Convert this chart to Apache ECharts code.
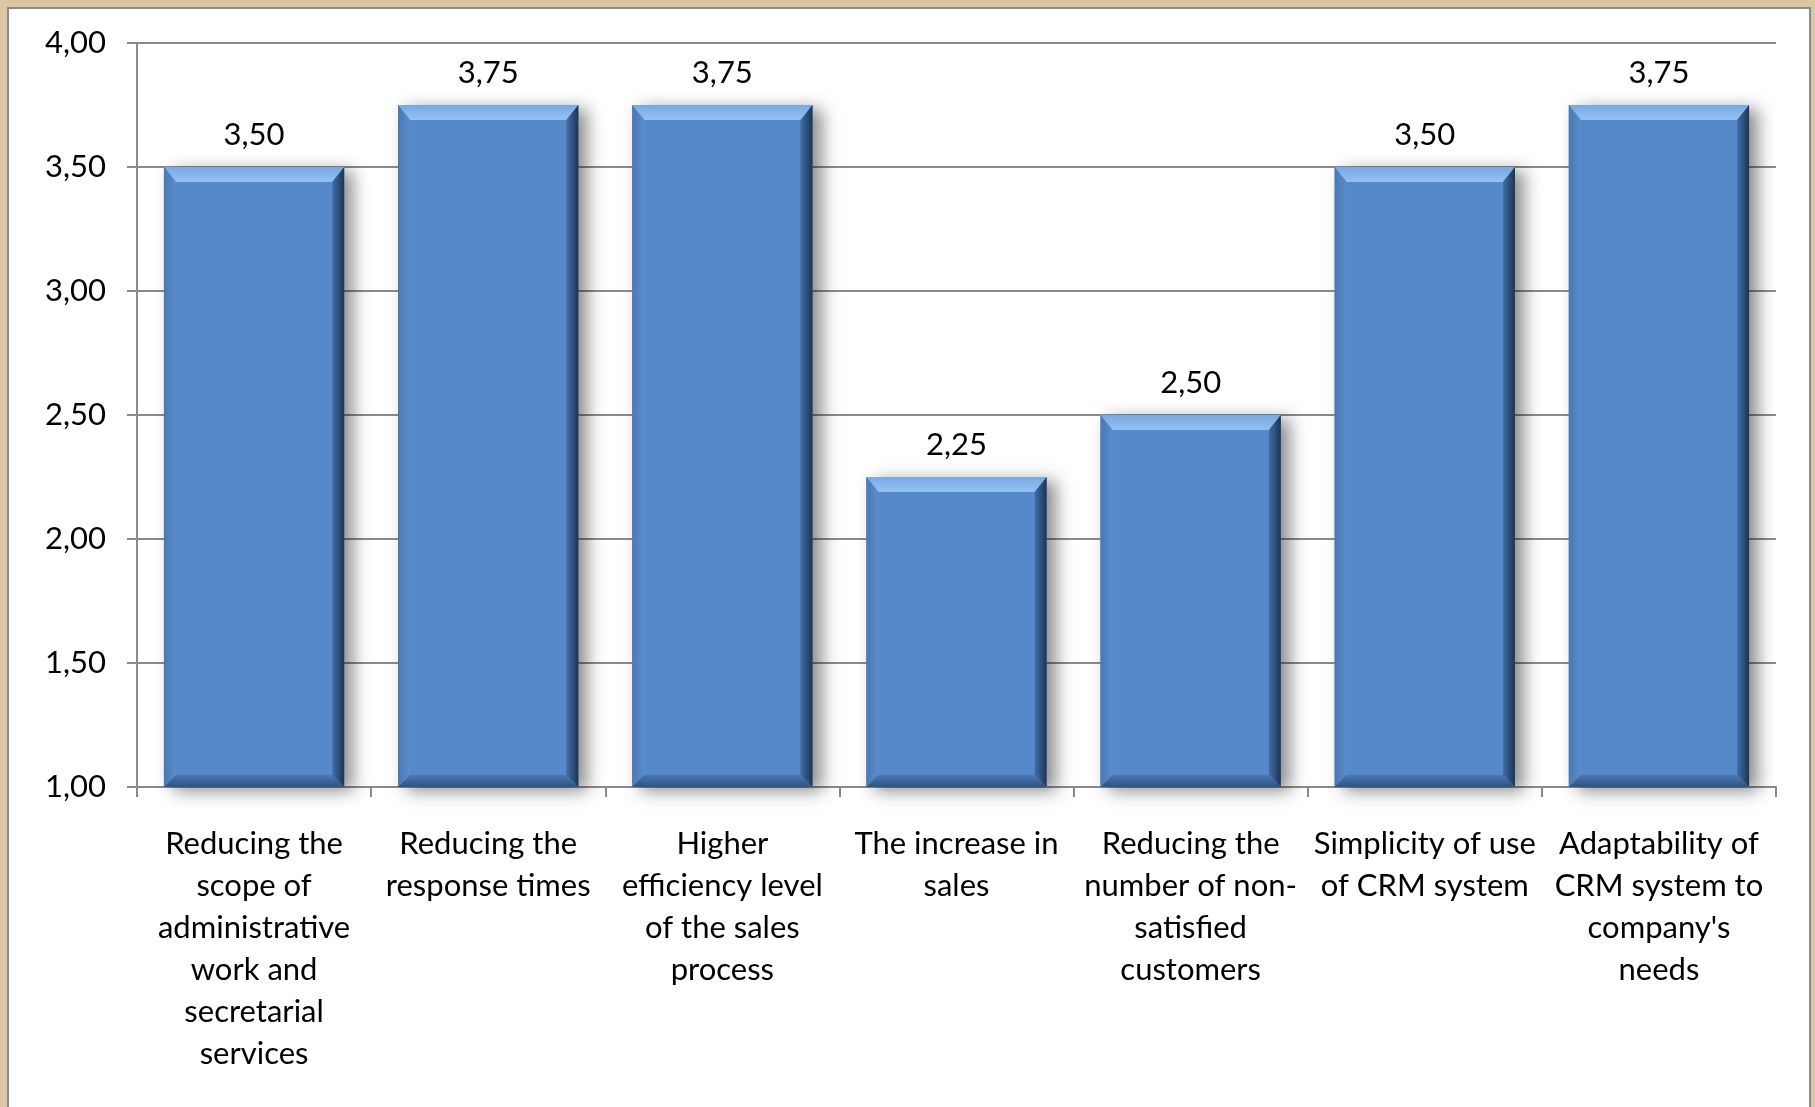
<!DOCTYPE html>
<html>
<head>
<meta charset="utf-8">
<title>CRM benefits</title>
<script src="https://cdn.jsdelivr.net/npm/echarts@6/dist/echarts.min.js"></script>
<style>
  html, body { margin: 0; padding: 0; }
  body {
    width: 1815px;
    height: 1107px;
    overflow: hidden;
    background: #dcc7a4;
    position: relative;
  }
  #panel {
    position: absolute;
    left: 7px;
    top: 7px;
    width: 1800px;
    height: 1110px;
    background: #ffffff;
    border: 2px solid #8a8a8a;
  }
  #chart {
    position: absolute;
    left: 0;
    top: 0;
    width: 1815px;
    height: 1107px;
  }
</style>
</head>
<body>
<div id="panel"></div>
<div id="chart"></div>
<script>
const categories = [
  "Reducing the\nscope of\nadministrative\nwork and\nsecretarial\nservices",
  "Reducing the\nresponse times",
  "Higher\nefficiency level\nof the sales\nprocess",
  "The increase in\nsales",
  "Reducing the\nnumber of non-\nsatisfied\ncustomers",
  "Simplicity of use\nof CRM system",
  "Adaptability of\nCRM system to\ncompany's\nneeds"
];
const scores = [3.5, 3.75, 3.75, 2.25, 2.5, 3.5, 3.75];
const axisMin = 1;
const axisMax = 4;

const fmt = (v) => v.toFixed(2).replace(".", ",");
const font = "Lato, 'Open Sans', sans-serif";

const chart = echarts.init(document.getElementById("chart"));

// beveled 3D-looking bar, built from the axis coords
const renderBar = (params, api) => {
  const idx = api.value(0);
  const val = api.value(1);
  const top = api.coord([idx, val]);
  const base = api.coord([idx, axisMin]);
  const w = api.size([1, 0])[0] * 0.77;
  const x0 = top[0] - w / 2;
  const x1 = top[0] + w / 2;
  const y0 = top[1];
  const y1 = base[1];
  const bv = 12;
  return {
    type: "group",
    children: [
      {
        type: "rect",
        shape: { x: x0, y: y0, width: w, height: y1 - y0 },
        style: {
          fill: "#5689c9",
          shadowBlur: 16,
          shadowOffsetX: 9,
          shadowOffsetY: 4,
          shadowColor: "rgba(0,0,0,0.45)"
        }
      },
      {
        type: "polygon",
        shape: { points: [[x0, y0], [x1, y0], [x1 - bv, y0 + bv + 3], [x0 + bv, y0 + bv + 3]] },
        style: {
          fill: new echarts.graphic.LinearGradient(0, 0, 0, 1, [
            { offset: 0, color: "#7aa9e2" },
            { offset: 1, color: "#93c1f5" }
          ])
        }
      },
      {
        type: "polygon",
        shape: { points: [[x0, y0], [x0 + bv, y0 + bv + 3], [x0 + bv, y1 - bv], [x0, y1]] },
        style: {
          fill: new echarts.graphic.LinearGradient(0, 0, 1, 0, [
            { offset: 0, color: "#4a78b3" },
            { offset: 1, color: "#5a8dcc" }
          ])
        }
      },
      {
        type: "polygon",
        shape: { points: [[x1, y0], [x1, y1], [x1 - bv, y1 - bv], [x1 - bv, y0 + bv + 3]] },
        style: {
          fill: new echarts.graphic.LinearGradient(0, 0, 1, 0, [
            { offset: 0, color: "#426fa8" },
            { offset: 1, color: "#1d3352" }
          ])
        }
      },
      {
        type: "polygon",
        shape: { points: [[x0, y1], [x0 + bv, y1 - bv], [x1 - bv, y1 - bv], [x1, y1]] },
        style: {
          fill: new echarts.graphic.LinearGradient(0, 0, 0, 1, [
            { offset: 0, color: "#4a78b2" },
            { offset: 1, color: "#2f5282" }
          ])
        }
      },
      {
        type: "text",
        style: {
          text: fmt(val),
          x: top[0],
          y: y0 - 17,
          align: "center",
          verticalAlign: "bottom",
          fill: "#000",
          font: "31px " + font
        }
      }
    ]
  };
};

const option = {
  animation: false,
  backgroundColor: "transparent",
  grid: { left: 137, right: 39, top: 43, bottom: 320 },
  xAxis: {
    type: "category",
    data: categories,
    boundaryGap: true,
    axisLine: { lineStyle: { color: "#8a8a8a", width: 2 } },
    axisTick: { show: true, length: 10, lineStyle: { color: "#8a8a8a", width: 2 } },
    axisLabel: {
      interval: 0,
      margin: 36,
      color: "#000",
      fontFamily: font,
      fontSize: 31,
      lineHeight: 42,
      align: "center"
    }
  },
  yAxis: {
    type: "value",
    min: axisMin,
    max: axisMax,
    interval: 0.5,
    axisLine: { show: true, lineStyle: { color: "#8a8a8a", width: 2 } },
    axisTick: { show: true, length: 10, lineStyle: { color: "#8a8a8a", width: 2 } },
    splitLine: { lineStyle: { color: "#8a8a8a", width: 2 } },
    axisLabel: {
      margin: 31,
      color: "#000",
      fontFamily: font,
      fontSize: 31,
      formatter: (v) => fmt(v)
    }
  },
  series: [
    {
      type: "custom",
      renderItem: renderBar,
      clip: false,
      encode: { x: 0, y: 1 },
      data: scores.map((v, i) => [i, v])
    }
  ]
};

chart.setOption(option);
window.addEventListener("resize", chart.resize);
</script>
</body>
</html>
